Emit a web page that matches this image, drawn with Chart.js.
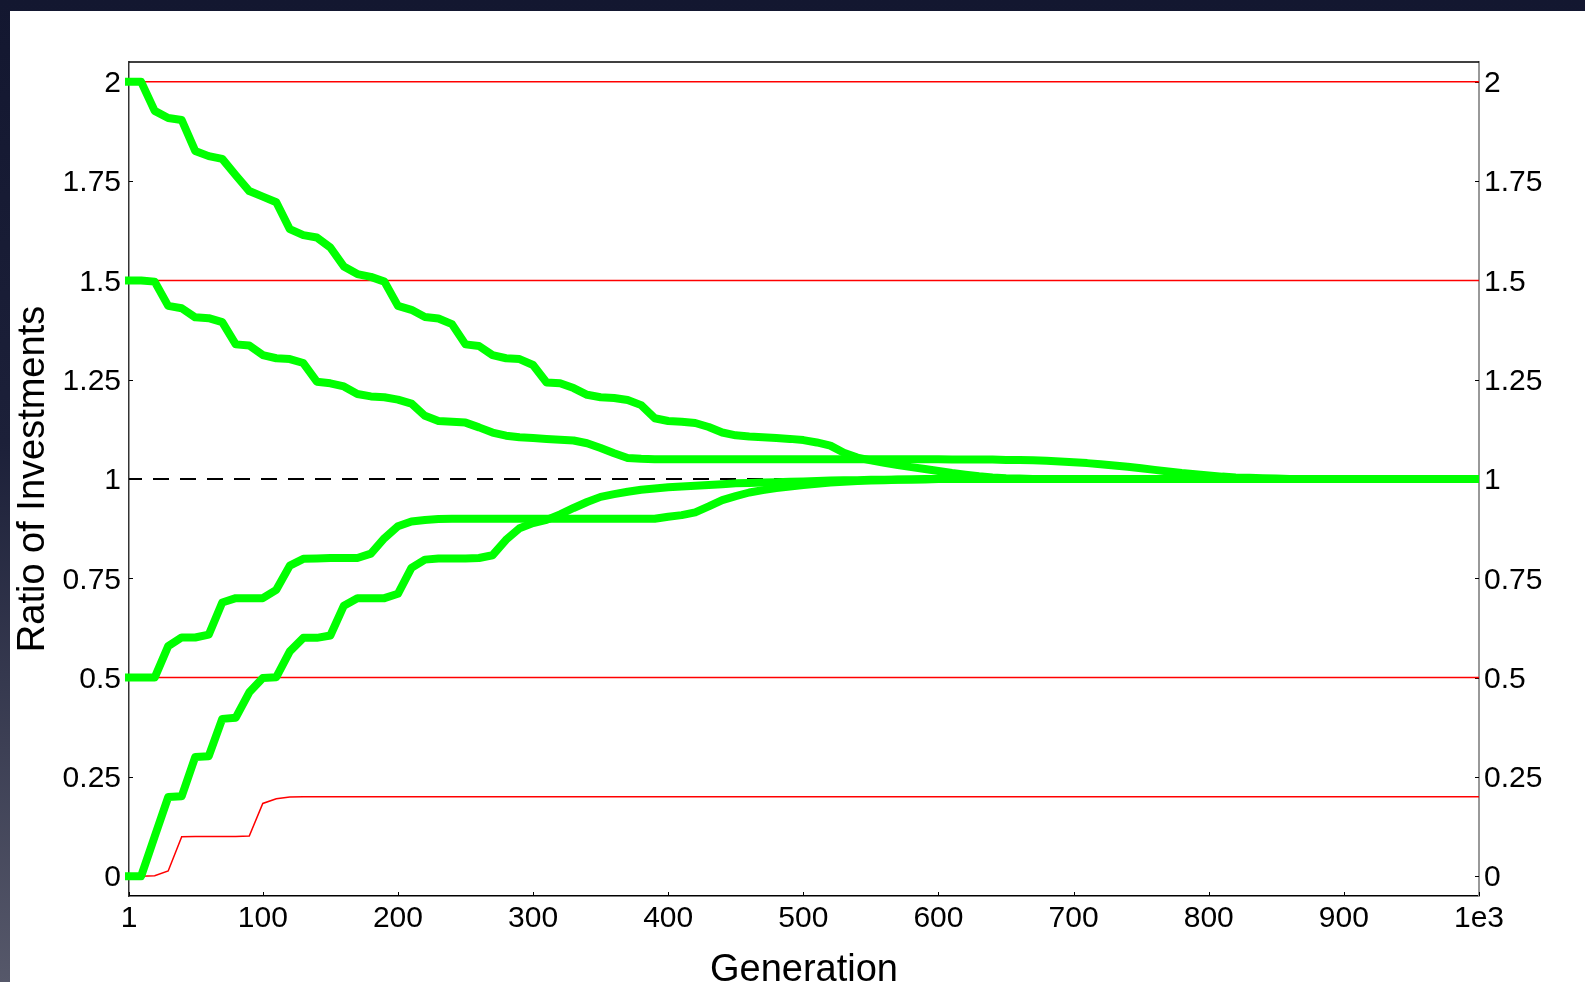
<!DOCTYPE html>
<html>
<head>
<meta charset="utf-8">
<script src="https://cdn.jsdelivr.net/npm/chart.js@4"></script>
<style>
  html, body { margin: 0; padding: 0; overflow: hidden; }
  body {
    width: 1585px; height: 982px;
    background: linear-gradient(to bottom, #131730 0%, #1c2039 45%, #56586a 100%);
  }
  canvas { display: block; }
</style>
</head>
<body>
<canvas id="ratio" width="1585" height="982"></canvas>
<script>
// sampled generations (x)
const generations = [
    1, 10, 20, 30, 40, 50, 60, 70, 80, 90,
    100, 110, 120, 130, 140, 150, 160, 170, 180, 190,
    200, 210, 220, 230, 240, 250, 260, 270, 280, 290,
    300, 310, 320, 330, 340, 350, 360, 370, 380, 390,
    400, 410, 420, 430, 440, 450, 460, 470, 480, 490,
    500, 510, 520, 530, 540, 550, 560, 570, 580, 590,
    600, 610, 620, 630, 640, 650, 660, 670, 680, 690,
    700, 710, 720, 730, 740, 750, 760, 770, 780, 790,
    800, 810, 820, 830, 840, 850, 860, 870, 880, 890,
    900, 910, 920, 930, 940, 950, 960, 970, 980, 990,
    1000
];

// green runs, by starting ratio
const startTwo = [
    2.0, 2.0, 1.927, 1.909, 1.904, 1.826, 1.813, 1.806, 1.765, 1.725,
    1.711, 1.697, 1.629, 1.614, 1.608, 1.583, 1.535, 1.516, 1.509, 1.497,
    1.436, 1.426, 1.408, 1.404, 1.390, 1.339, 1.335, 1.312, 1.304, 1.302,
    1.287, 1.243, 1.241, 1.229, 1.212, 1.206, 1.204, 1.199, 1.186, 1.153,
    1.146, 1.144, 1.141, 1.131, 1.117, 1.110, 1.107, 1.105, 1.103, 1.101,
    1.098, 1.092, 1.084, 1.066, 1.054, 1.047, 1.041, 1.035, 1.030, 1.025,
    1.020, 1.015, 1.011, 1.007, 1.004, 1.002, 1.001, 1.0, 1.0, 1.0,
    1.0, 1.0, 1.0, 1.0, 1.0, 1.0, 1.0, 1.0, 1.0, 1.0,
    1.0, 1.0, 1.0, 1.0, 1.0, 1.0, 1.0, 1.0, 1.0, 1.0,
    1.0, 1.0, 1.0, 1.0, 1.0, 1.0, 1.0, 1.0, 1.0, 1.0,
    1.0
];
const startOneHalf = [
    1.5, 1.5, 1.497, 1.436, 1.430, 1.407, 1.405, 1.395, 1.339, 1.336,
    1.312, 1.304, 1.302, 1.292, 1.245, 1.241, 1.233, 1.214, 1.208, 1.206,
    1.200, 1.190, 1.159, 1.146, 1.144, 1.142, 1.130, 1.117, 1.109, 1.105,
    1.103, 1.101, 1.099, 1.097, 1.090, 1.078, 1.065, 1.053, 1.051, 1.050,
    1.050, 1.050, 1.050, 1.050, 1.050, 1.050, 1.050, 1.050, 1.050, 1.050,
    1.050, 1.050, 1.050, 1.050, 1.050, 1.050, 1.050, 1.050, 1.050, 1.050,
    1.050, 1.049, 1.049, 1.049, 1.049, 1.048, 1.048, 1.047, 1.046, 1.044,
    1.042, 1.040, 1.037, 1.034, 1.031, 1.027, 1.023, 1.019, 1.015, 1.012,
    1.009, 1.006, 1.004, 1.003, 1.002, 1.001, 1.0, 1.0, 1.0, 1.0,
    1.0, 1.0, 1.0, 1.0, 1.0, 1.0, 1.0, 1.0, 1.0, 1.0,
    1.0
];
const startHalf = [
    0.5, 0.5, 0.5, 0.579, 0.601, 0.601, 0.608, 0.689, 0.700, 0.700,
    0.700, 0.721, 0.782, 0.799, 0.800, 0.801, 0.801, 0.801, 0.812, 0.851,
    0.881, 0.893, 0.897, 0.899, 0.900, 0.900, 0.900, 0.900, 0.900, 0.900,
    0.900, 0.900, 0.900, 0.900, 0.900, 0.900, 0.900, 0.900, 0.900, 0.900,
    0.905, 0.909, 0.916, 0.931, 0.947, 0.957, 0.966, 0.972, 0.977, 0.981,
    0.985, 0.988, 0.991, 0.993, 0.995, 0.996, 0.997, 0.998, 0.999, 0.999,
    1.0, 1.0, 1.0, 1.0, 1.0, 1.0, 1.0, 1.0, 1.0, 1.0,
    1.0, 1.0, 1.0, 1.0, 1.0, 1.0, 1.0, 1.0, 1.0, 1.0,
    1.0, 1.0, 1.0, 1.0, 1.0, 1.0, 1.0, 1.0, 1.0, 1.0,
    1.0, 1.0, 1.0, 1.0, 1.0, 1.0, 1.0, 1.0, 1.0, 1.0,
    1.0
];
const startZero = [
    0, 0, 0.1, 0.199, 0.201, 0.300, 0.302, 0.396, 0.399, 0.463,
    0.499, 0.501, 0.566, 0.600, 0.600, 0.606, 0.681, 0.700, 0.700, 0.700,
    0.711, 0.776, 0.797, 0.800, 0.800, 0.800, 0.801, 0.808, 0.847, 0.876,
    0.889, 0.897, 0.911, 0.927, 0.942, 0.955, 0.962, 0.968, 0.973, 0.976,
    0.979, 0.981, 0.983, 0.985, 0.987, 0.989, 0.990, 0.991, 0.992, 0.993,
    0.994, 0.995, 0.996, 0.997, 0.997, 0.998, 0.998, 0.999, 0.999, 1.0,
    1.0, 1.0, 1.0, 1.0, 1.0, 1.0, 1.0, 1.0, 1.0, 1.0,
    1.0, 1.0, 1.0, 1.0, 1.0, 1.0, 1.0, 1.0, 1.0, 1.0,
    1.0, 1.0, 1.0, 1.0, 1.0, 1.0, 1.0, 1.0, 1.0, 1.0,
    1.0, 1.0, 1.0, 1.0, 1.0, 1.0, 1.0, 1.0, 1.0, 1.0,
    1.0
];

// thin red run climbing to 0.2
const redRise = [
    0, 0, 0.001, 0.013, 0.099, 0.100, 0.100, 0.100, 0.100, 0.101,
    0.183, 0.195, 0.199, 0.200, 0.200, 0.200, 0.200, 0.200, 0.200, 0.200,
    0.2, 0.2, 0.2, 0.2, 0.2, 0.2, 0.2, 0.2, 0.2, 0.2,
    0.2, 0.2, 0.2, 0.2, 0.2, 0.2, 0.2, 0.2, 0.2, 0.2,
    0.2, 0.2, 0.2, 0.2, 0.2, 0.2, 0.2, 0.2, 0.2, 0.2,
    0.2, 0.2, 0.2, 0.2, 0.2, 0.2, 0.2, 0.2, 0.2, 0.2,
    0.2, 0.2, 0.2, 0.2, 0.2, 0.2, 0.2, 0.2, 0.2, 0.2,
    0.2, 0.2, 0.2, 0.2, 0.2, 0.2, 0.2, 0.2, 0.2, 0.2,
    0.2, 0.2, 0.2, 0.2, 0.2, 0.2, 0.2, 0.2, 0.2, 0.2,
    0.2, 0.2, 0.2, 0.2, 0.2, 0.2, 0.2, 0.2, 0.2, 0.2,
    0.2
];

// flat red levels and the dashed parity line
const redLevels = [2, 1.5, 0.5];
const parityLevel = 1;

const xTicks = [1, 100, 200, 300, 400, 500, 600, 700, 800, 900, 1000];
const yTicks = [0, 0.25, 0.5, 0.75, 1, 1.25, 1.5, 1.75, 2];

const FONT = "'Liberation Sans', Arial, sans-serif";
const GREEN = '#00ff00';
const RED = '#ff0000';

const toPoints = (ys) => ys.map((y, i) => ({ x: generations[i], y: y }));
const flatLine = (level) => [
    { x: generations[0], y: level },
    { x: generations[generations.length - 1], y: level }
];

const greenRun = (ys) => ({
    data: toPoints(ys),
    borderColor: GREEN,
    borderWidth: 8,
    borderJoinStyle: 'round',
    borderCapStyle: 'square',
    clip: { left: 4, top: 6, right: 0, bottom: 6 },
    pointRadius: 0,
    tension: 0
});

const datasets = [
    greenRun(startTwo),
    greenRun(startOneHalf),
    greenRun(startHalf),
    greenRun(startZero),
    {
        data: flatLine(parityLevel),
        borderColor: '#000000',
        borderWidth: 2,
        borderDash: [16, 11],
        borderDashOffset: 3,
        pointRadius: 0
    },
    ...redLevels.map(level => ({
        data: flatLine(level),
        borderColor: RED,
        borderWidth: 1.5,
        pointRadius: 0
    })),
    {
        data: toPoints(redRise),
        borderColor: RED,
        borderWidth: 1.5,
        pointRadius: 0,
        tension: 0
    }
];

// white panel, top frame line and inward tick marks
const framePlugin = {
    id: 'frame',
    beforeDraw(chart) {
        const ctx = chart.ctx;
        ctx.save();
        ctx.fillStyle = '#ffffff';
        ctx.fillRect(10, 11, chart.width - 10, chart.height - 11);
        ctx.restore();
    },
    beforeDatasetsDraw(chart) {
        const { ctx, chartArea: a, scales } = chart;
        ctx.save();
        ctx.strokeStyle = '#000000';
        ctx.lineWidth = 1.5;
        ctx.beginPath();
        ctx.moveTo(a.left, a.top);
        ctx.lineTo(a.right, a.top);
        ctx.stroke();

        ctx.lineWidth = 1;
        ctx.beginPath();
        yTicks.forEach(v => {
            const py = Math.round(scales.y.getPixelForValue(v)) + 0.5;
            ctx.moveTo(a.left, py);
            ctx.lineTo(a.left + 4, py);
            ctx.moveTo(a.right - 4, py);
            ctx.lineTo(a.right, py);
        });
        xTicks.forEach(v => {
            const px = Math.round(scales.x.getPixelForValue(v)) + 0.5;
            ctx.moveTo(px, a.bottom);
            ctx.lineTo(px, a.bottom - 4);
        });
        ctx.stroke();
        ctx.restore();
    }
};

const tickFont = { family: FONT, size: 30 };
const titleFont = { family: FONT, size: 38 };

const ctx = document.getElementById('ratio').getContext('2d');

const ratioChart = new Chart(ctx, {
    type: 'line',
    data: { datasets: datasets },
    options: {
        responsive: false,
        animation: false,
        layout: { padding: { top: 62, left: 0, right: 0, bottom: 0 } },
        plugins: {
            legend: { display: false },
            tooltip: { enabled: false }
        },
        scales: {
            x: {
                type: 'linear',
                position: 'bottom',
                min: 1,
                max: 1000,
                afterBuildTicks: (axis) => { axis.ticks = xTicks.map(v => ({ value: v })); },
                afterFit: (axis) => { axis.height = 86; },
                grid: { drawOnChartArea: false, drawTicks: false },
                border: { color: '#000000', width: 1.5 },
                ticks: {
                    color: '#000000',
                    font: tickFont,
                    padding: 5,
                    maxRotation: 0,
                    autoSkip: false,
                    callback: (v) => (v === 1000 ? '1e3' : String(v))
                },
                title: {
                    display: true,
                    text: 'Generation',
                    color: '#000000',
                    font: titleFont,
                    padding: { top: 0, bottom: -11 }
                }
            },
            y: {
                position: 'left',
                min: -0.05,
                max: 2.05,
                afterBuildTicks: (axis) => { axis.ticks = yTicks.map(v => ({ value: v })); },
                afterFit: (axis) => { axis.width = 129; },
                grid: { drawOnChartArea: false, drawTicks: false },
                border: { color: '#333333', width: 1.5 },
                ticks: {
                    color: '#000000',
                    font: tickFont,
                    padding: 8,
                    labelOffset: 2,
                    callback: (v) => String(v)
                },
                title: {
                    display: true,
                    text: 'Ratio of Investments',
                    color: '#000000',
                    font: titleFont,
                    padding: { top: 11, bottom: 0 }
                }
            },
            y2: {
                position: 'right',
                min: -0.05,
                max: 2.05,
                afterBuildTicks: (axis) => { axis.ticks = yTicks.map(v => ({ value: v })); },
                afterFit: (axis) => { axis.width = 106; },
                grid: { drawOnChartArea: false, drawTicks: false },
                border: { color: '#999999', width: 2 },
                ticks: {
                    color: '#000000',
                    font: tickFont,
                    padding: 5,
                    labelOffset: 2,
                    callback: (v) => String(v)
                }
            }
        }
    },
    plugins: [framePlugin]
});
</script>
</body>
</html>
